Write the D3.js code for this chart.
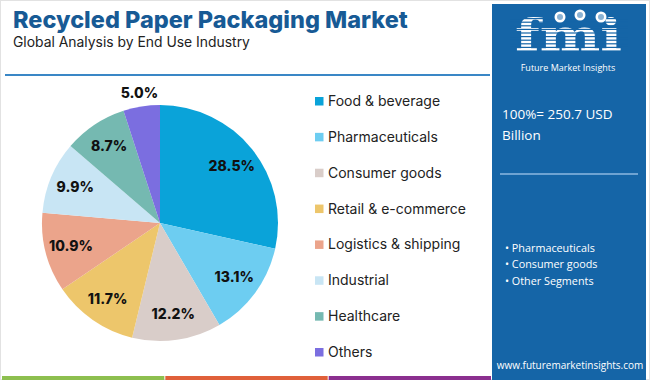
<!DOCTYPE html>
<html><head><meta charset="utf-8">
<script src="https://cdn.jsdelivr.net/npm/d3@7"></script>
<style>body{margin:0;background:#fff}svg{display:block}</style>
</head><body>
<script>
const categories = ["Food & beverage","Pharmaceuticals","Consumer goods","Retail & e-commerce","Logistics & shipping","Industrial","Healthcare","Others"];
const shares = [28.5,13.1,12.2,11.7,10.9,9.9,8.7,5.0];
const colors = ["#0aa3d9","#6dcdf1","#d9cdc9","#edc66b","#eba48b","#c8e5f4","#75b9b1","#7b6ee0"];
const sideBullets = ["Pharmaceuticals","Consumer goods","Other Segments"];
const titleText = "Recycled Paper Packaging Market";
const subtitleText = "Global Analysis by End Use Industry";
const totalText = ["100%= 250.7 USD","Billion"];

const W=650,H=380;
const svg=d3.select("body").append("svg").attr("width",W).attr("height",H);
svg.append("rect").attr("x",0.5).attr("y",0.5).attr("width",W-1).attr("height",H-1).attr("fill","#fff").attr("stroke","#e2e2e2");

// header
svg.append("text").attr("x",13).attr("y",28).text(titleText)
  .attr("font-family","Inter").attr("font-weight",800).attr("font-size",23.5).attr("fill","#175a95");
svg.append("text").attr("x",13).attr("y",47).text(subtitleText)
  .attr("font-family","Inter").attr("font-size",13.9).attr("fill","#222");
svg.append("line").attr("x1",5).attr("x2",490).attr("y1",75).attr("y2",75).attr("stroke","#3a87c6").attr("stroke-width",2);

// bottom bars
const bx=d3.scaleLinear().domain([0,3]).range([2,492]);
["#8dbf4f","#e0603a","#8b2f8f"].forEach((c,i)=>{
  svg.append("rect").attr("x",bx(i)).attr("y",376).attr("width",bx(i+1)-bx(i)-1).attr("height",4).attr("fill",c);
});

// side panel
const panel=svg.append("g");
panel.append("rect").attr("x",492).attr("y",4).attr("width",154).attr("height",376).attr("fill","#1565a7");
// logo
const logo=panel.append("g");
logo.append("text").attr("x",515).attr("y",51).text("fmi")
  .attr("textLength",107).attr("lengthAdjust","spacingAndGlyphs")
  .attr("font-family","DejaVu Serif").attr("font-weight","bold").attr("font-size",45).attr("fill","#fff");
d3.range(18,54,3.6).forEach(y=>{
  logo.append("rect").attr("x",510).attr("y",y).attr("width",118).attr("height",1.2).attr("fill","#1565a7");
});
[[560,17],[580,15],[601,17]].forEach(([x,y])=>{
  logo.append("circle").attr("cx",x).attr("cy",y).attr("r",5.5).attr("fill","#fff");
  logo.append("circle").attr("cx",x).attr("cy",y).attr("r",3).attr("fill","#1565a7").attr("opacity",0.5);
});
logo.append("text").attr("x",568).attr("y",71).attr("text-anchor","middle").text("Future Market Insights")
  .attr("font-family","Open Sans").attr("font-size",9).attr("fill","#fff");

totalText.forEach((t,i)=>{
  panel.append("text").attr("x",502).attr("y",119+i*21).text(t)
    .attr("font-family","Open Sans").attr("font-size",13.5).attr("fill","#fff");
});
panel.append("line").attr("x1",500).attr("x2",638).attr("y1",174).attr("y2",174).attr("stroke","#8db9e0").attr("stroke-width",1.5);
sideBullets.forEach((t,i)=>{
  panel.append("text").attr("x",505).attr("y",252+i*15.5+(i==2?1.5:0)).text("\u2022 "+t)
    .attr("font-family","Open Sans").attr("font-size",10.8).attr("fill","#fff");
});
panel.append("text").attr("x",570).attr("y",369).attr("text-anchor","middle").text("www.futuremarketinsights.com")
  .attr("font-family","Open Sans").attr("font-size",10).attr("fill","#fff");

// pie
const cx=160, cy=223, R=118;
const pie=d3.pie().sort(null).value(d=>d.v);
const data=pie(categories.map((c,i)=>({c,v:shares[i],col:colors[i]})));
const arc=d3.arc().innerRadius(0).outerRadius(R);
const g=svg.append("g").attr("transform",`translate(${cx},${cy})`);
g.selectAll("path").data(data).join("path").attr("d",arc).attr("fill",d=>d.data.col);
const labIn=d3.arc().innerRadius(92).outerRadius(92);
const labOut=d3.arc().innerRadius(R+14).outerRadius(R+14);
g.selectAll("text.lab").data(data).join("text").attr("class","lab")
  .attr("transform",d=>`translate(${(d.data.v<6?labOut:labIn).centroid(d)})`)
  .attr("text-anchor","middle").attr("dy","0.36em")
  .text(d=>d.data.v.toFixed(1)+"%")
  .attr("font-family","Inter").attr("font-weight",800).attr("font-size",14).attr("fill","#111");

// legend
const ly=d3.scalePoint().domain(categories).range([101,352]);
const leg=svg.append("g");
categories.forEach((c,i)=>{
  leg.append("rect").attr("x",315).attr("y",ly(c)-4).attr("width",8.5).attr("height",8.5).attr("fill",colors[i]);
  leg.append("text").attr("x",328).attr("y",ly(c)).attr("dy","0.36em").text(c)
    .attr("font-family","Inter").attr("font-size",14).attr("fill","#222");
});
</script>
</body></html>
